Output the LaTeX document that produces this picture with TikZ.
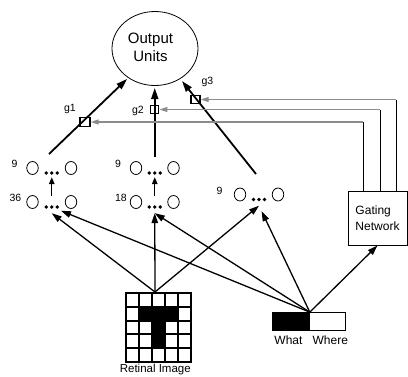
\documentclass[tikz,border=0pt]{standalone}
\usepackage{fontspec}
\setmainfont{Liberation Sans}
\usetikzlibrary{arrows.meta,shapes.geometric}

% a pool of units: two circles with three dots between them, plus its size label
% #1 name, #2 left circle x, #3 right circle x, #4 y, #5 label, #6 label x
\newcommand\unitpool[6]{%
  \node[unit] (#1l) at (#2,#4) {};
  \node[unit] (#1r) at (#3,#4) {};
  \node[dotsbox] (#1) at ({(#2+#3)/2},#4+5) {};
  \foreach \d/\k in {-5.5/a,0/b,5.5/c}
    \node[pin] (#1\k) at ([xshift=\d pt]#1.center) {};
  \node[num] (#1n) at (#6,#4-4) {#5};
}

\begin{document}
\begin{tikzpicture}[x=1pt,y=-1pt,
  unit/.style={draw,ellipse,minimum width=11.5pt,minimum height=13pt,inner sep=0pt,line width=0.8pt},
  dotsbox/.style={minimum width=18pt,minimum height=12pt,inner sep=0pt},
  pin/.style={circle,fill,inner sep=0pt,minimum size=3.6pt},
  feed/.style={line width=1.3pt,-{Triangle[length=10pt,width=6.5pt]}},
  outarrow/.style={line width=1.8pt,-{Triangle[length=11pt,width=7pt]}},
  lift/.style={line width=1.3pt,-{Triangle[length=7pt,width=5.5pt]}},
  gatebox/.style={draw,line width=1.3pt,inner sep=0pt},
  ctrl/.style={draw=black!45,line width=1.3pt,-{Triangle[length=8pt,width=5pt,fill=black!45]}},
  riser/.style={line width=1pt},
  num/.style={font=\fontsize{10.5}{12}\selectfont,inner sep=0pt},
  glab/.style={font=\fontsize{10.5}{12}\selectfont,inner sep=0pt},
  gridline/.style={line width=2pt,line cap=rect},
]
\useasboundingbox (0,0) rectangle (408,376);

% output units
\node[draw,ellipse,line width=0.8pt,minimum width=86pt,minimum height=74pt,inner sep=0pt] (out) at (155,48.5) {};
\node[align=center,font=\fontsize{15}{18}\selectfont,inner sep=0pt] (outtxt) at (150.5,47) {Output\\Units};

% pools of hidden units
\unitpool{A9}{32.5}{71}{168}{9}{14.5}
\unitpool{A36}{32.5}{71}{202}{36}{15.5}
\unitpool{B9}{136}{173.5}{168}{9}{118}
\unitpool{B18}{136}{173.5}{202}{18}{121}
\unitpool{C9}{240}{278}{194.5}{9}{219.5}

\draw[lift,shorten <=5pt,shorten >=-2pt] (A36.north) -- (A9.south);
\draw[lift,shorten <=5pt,shorten >=-2pt] (B18.north) -- (B9.south);

% expert outputs with their gates
\coordinate (A9o) at (49,154);
\coordinate (B9o) at (154.75,157);
\coordinate (C9o) at (256,174);
\coordinate (A9t) at (127,79);
\coordinate (B9t) at (154.75,88);
\coordinate (C9t) at (182,81);
\draw[outarrow] (A9o) -- (A9t);
\draw[outarrow] (B9o) -- (B9t);
\draw[outarrow] (C9o) -- (C9t);

\node[gatebox,minimum width=10pt,minimum height=9pt] (g1) at (85,122) {};
\node[gatebox,minimum width=8pt,minimum height=7.5pt] (g2) at (154.75,109.5) {};
\node[gatebox,minimum width=9pt,minimum height=8.5pt] (g3) at (195.5,99.5) {};
\node[glab] (g1l) at (70,109) {g1};
\node[glab] (g2l) at (138,111) {g2};
\node[glab] (g3l) at (207.5,82) {g3};

% gating network and its control lines
\node[draw,line width=1pt,minimum width=59pt,minimum height=54pt,inner sep=0pt,
      align=left,font=\fontsize{12}{16}\selectfont] (gn) at (377.5,218) {Gating\\Network};
\coordinate (k1) at (363,122);
\coordinate (k2) at (380,109.5);
\coordinate (k3) at (396,99.5);
\draw[riser] (gn.north -| k1) -- (k1);
\draw[riser] (gn.north -| k2) -- (k2);
\draw[riser] (gn.north -| k3) -- (k3);
\draw[ctrl] (k1) -- (g1);
\draw[ctrl] (k2) -- (g2);
\draw[ctrl] (k3) -- (g3);

% retinal image: 5x5 grid with a T
\node[minimum width=65pt,minimum height=69pt,inner sep=0pt] (ret) at (158.5,327.5) {};
\fill (139,306.8) rectangle (178,320.6);
\fill (152,320.6) rectangle (165,348.2);
\foreach \i in {0,...,5} \draw[gridline] (126+13*\i,293) -- (126+13*\i,362);
\foreach \j in {0,...,5} \draw[gridline] (126,293+13.8*\j) -- (191,293+13.8*\j);
\node[anchor=base,font=\fontsize{11.5}{14}\selectfont,inner sep=0pt] (retl) at (155.3,372.6) {Retinal Image};
\coordinate (Rtop) at (155,292);

% what / where code
\node[draw,fill=black,line width=1pt,minimum width=37pt,minimum height=17.5pt,inner sep=0pt] (what) at (290.8,321.4) {};
\node[draw,line width=1pt,minimum width=36.4pt,minimum height=17.5pt,inner sep=0pt] (where) at (327.5,321.4) {};
\node[font=\fontsize{12}{14}\selectfont,inner sep=0pt] (whatl) at (288.5,340) {What};
\node[font=\fontsize{12}{14}\selectfont,inner sep=0pt] (wherel) at (330.3,340) {Where};
\coordinate (J) at (what.north east);

% inputs
\draw[feed] (Rtop) -- (A36.south);
\draw[feed] (Rtop) -- (B18.south);
\draw[feed] (Rtop) -- (C9.south);
\draw[feed] (J) -- (A36);
\draw[feed] (J) -- (B18.south);
\draw[feed,shorten >=6pt] (J) -- (C9.south);
\draw[feed] (J) -- (gn.south);
\end{tikzpicture}
\end{document}
